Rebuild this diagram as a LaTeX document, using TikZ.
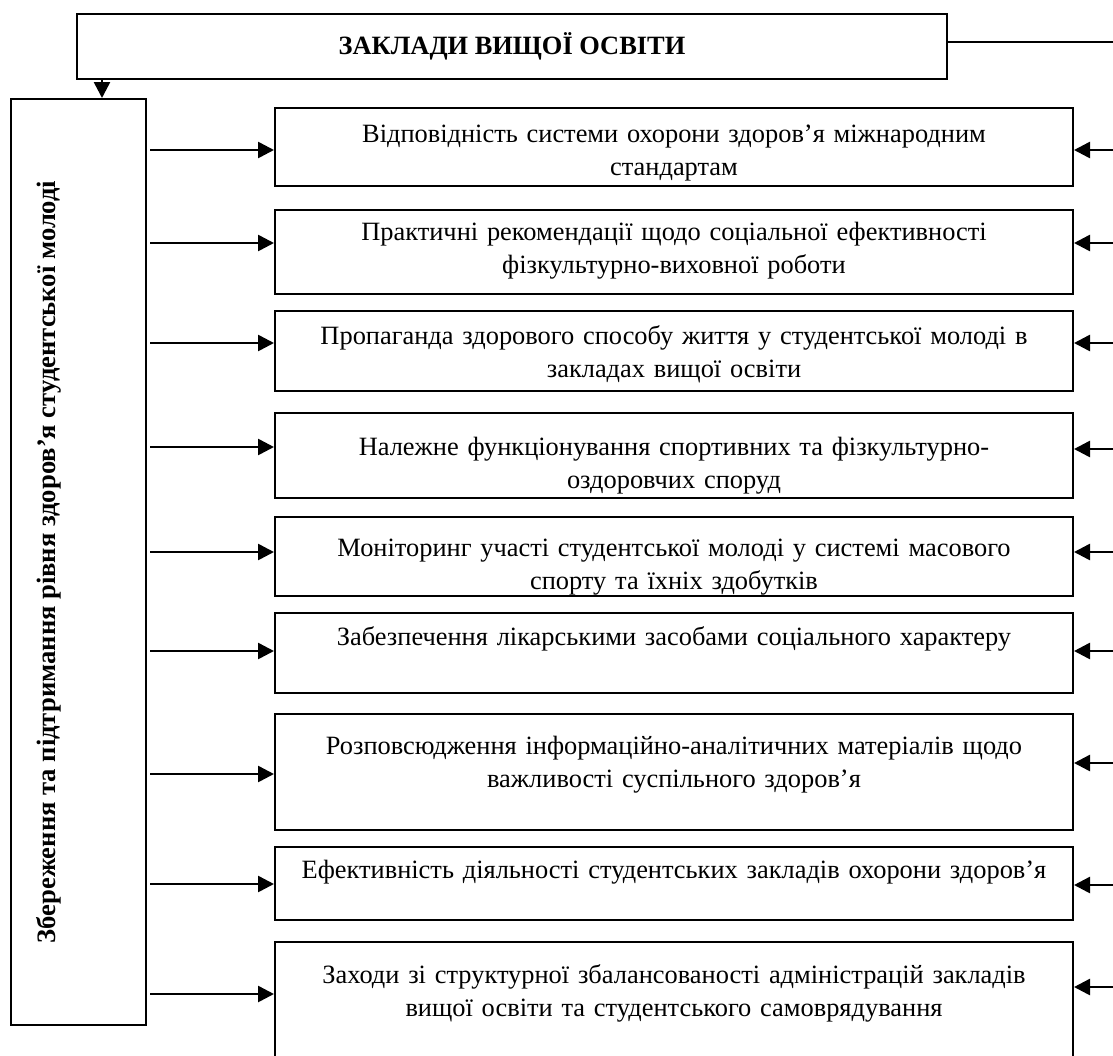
\documentclass[tikz,border=0pt]{standalone}
\usepackage{fontspec}
\setmainfont{Liberation Serif}
\usetikzlibrary{arrows.meta}

\begin{document}
\begin{tikzpicture}[x=0.5pt, y=-0.5pt,
    factor/.style ={draw, line width=1pt, minimum width=399pt},
    factortext/.style ={text width=395pt, align=center, inner sep=0pt,
      font=\fontsize{13.2}{16.5}\selectfont},
    link/.style ={line width=1.3pt, -{Triangle[length=8pt,width=8pt]}}]
   \clip (0,0) rectangle (1113,1055);

   \node[draw, line width=1pt, minimum width=435pt, minimum height=32.5pt,
     font=\bfseries\fontsize{13.2}{16}\selectfont] (top) at (512,46.5) {ЗАКЛАДИ ВИЩОЇ ОСВІТИ};
   \node[draw, line width=1pt, minimum width=67.5pt, minimum height=463pt] (goal) at (78.5,562) {};
   \node[rotate=90, font=\bfseries\fontsize{13.3}{16}\selectfont] (goaltext) at (49,562)
     {Збереження та підтримання рівня здоров’я студентської молоді};

   \node[factor, minimum height=39pt] (f1) at (674,147) {};
   \node[factor, minimum height=42pt] (f2) at (674,252) {};
   \node[factor, minimum height=40pt] (f3) at (674,351) {};
   \node[factor, minimum height=42.5pt] (f4) at (674,455.5) {};
   \node[factor, minimum height=39.5pt] (f5) at (674,556.5) {};
   \node[factor, minimum height=40pt] (f6) at (674,653) {};
   \node[factor, minimum height=58pt] (f7) at (674,772) {};
   \node[factor, minimum height=36.5pt] (f8) at (674,883.5) {};
   \node[factor, minimum height=78pt] (f9) at (674,1020) {};

   \node[factortext] (t1) at (674,153)
     {Відповідність системи охорони здоров’я міжнародним\\ стандартам};
   \node[factortext] (t2) at (674,251)
     {Практичні рекомендації щодо соціальної ефективності\\ фізкультурно-виховної роботи};
   \node[factortext] (t3) at (674,354)
     {Пропаганда здорового способу життя у студентської молоді в\\ закладах вищої освіти};
   \node[factortext] (t4) at (674,466)
     {Належне функціонування спортивних та фізкультурно-\\ оздоровчих споруд};
   \node[factortext] (t5) at (674,567)
     {Моніторинг участі студентської молоді у системі масового\\ спорту та їхніх здобутків};
   \node[factortext] (t6) at (674,639)
     {Забезпечення лікарськими засобами соціального характеру};
   \node[factortext] (t7) at (674,765)
     {Розповсюдження інформаційно-аналітичних матеріалів щодо\\ важливості суспільного здоров’я};
   \node[factortext] (t8) at (674,872)
     {Ефективність діяльності студентських закладів охорони здоров’я};
   \node[factortext] (t9) at (674,993)
     {Заходи зі структурної збалансованості адміністрацій закладів\\ вищої освіти та студентського самоврядування};

   % free ends at the right border
   \coordinate (e0) at (1113,42);
   \coordinate (e1) at (1113,150);
   \coordinate (e2) at (1113,243);
   \coordinate (e3) at (1113,343);
   \coordinate (e4) at (1113,449);
   \coordinate (e5) at (1113,552);
   \coordinate (e6) at (1113,651);
   \coordinate (e7) at (1113,763);
   \coordinate (e8) at (1113,885);
   \coordinate (e9) at (1113,987);

   \draw[line width=1pt] (top.east |- e0) -- (e0);
   \draw[link] (top.south -| 102,0) -- (goal.north -| 102,0);

   \draw[link] ([xshift=1.5pt]goal.east |- 0,150) -- (f1.west |- 0,150);
   \draw[link] ([xshift=1.5pt]goal.east |- 0,243) -- (f2.west |- 0,243);
   \draw[link] ([xshift=1.5pt]goal.east |- 0,343) -- (f3.west |- 0,343);
   \draw[link] ([xshift=1.5pt]goal.east |- 0,447) -- (f4.west |- 0,447);
   \draw[link] ([xshift=1.5pt]goal.east |- 0,552) -- (f5.west |- 0,552);
   \draw[link] ([xshift=1.5pt]goal.east |- 0,651) -- (f6.west |- 0,651);
   \draw[link] ([xshift=1.5pt]goal.east |- 0,774) -- (f7.west |- 0,774);
   \draw[link] ([xshift=1.5pt]goal.east |- 0,884) -- (f8.west |- 0,884);
   \draw[link] ([xshift=1.5pt]goal.east |- 0,994) -- (f9.west |- 0,994);

   \draw[link] (e1) -- (f1.east |- e1);
   \draw[link] (e2) -- (f2.east |- e2);
   \draw[link] (e3) -- (f3.east |- e3);
   \draw[link] (e4) -- (f4.east |- e4);
   \draw[link] (e5) -- (f5.east |- e5);
   \draw[link] (e6) -- (f6.east |- e6);
   \draw[link] (e7) -- (f7.east |- e7);
   \draw[link] (e8) -- (f8.east |- e8);
   \draw[link] (e9) -- (f9.east |- e9);
 \end{tikzpicture}
\end{document}
